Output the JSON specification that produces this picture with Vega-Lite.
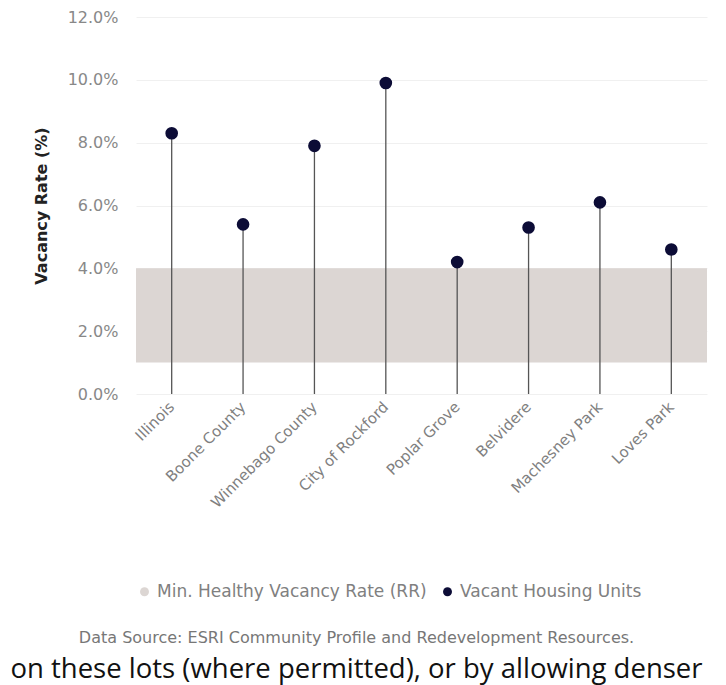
{
  "$schema": "https://vega.github.io/schema/vega-lite/v6.json",
  "autosize": "none",
  "width": 571,
  "height": 377,
  "padding": {"left": 136, "top": 17, "right": 19, "bottom": 291},
  "background": "white",
  "config": {
    "font": "DejaVu Sans",
    "view": {"stroke": null},
    "axis": {"labelFont": "DejaVu Sans", "titleFont": "DejaVu Sans"},
    "legend": {"labelFont": "DejaVu Sans"}
  },
  "datasets": {
    "places": [
      {"place": "Illinois", "rate": 8.3, "series": "Vacant Housing Units"},
      {"place": "Boone County", "rate": 5.4, "series": "Vacant Housing Units"},
      {"place": "Winnebago County", "rate": 7.9, "series": "Vacant Housing Units"},
      {"place": "City of Rockford", "rate": 9.9, "series": "Vacant Housing Units"},
      {"place": "Poplar Grove", "rate": 4.2, "series": "Vacant Housing Units"},
      {"place": "Belvidere", "rate": 5.3, "series": "Vacant Housing Units"},
      {"place": "Machesney Park", "rate": 6.1, "series": "Vacant Housing Units"},
      {"place": "Loves Park", "rate": 4.6, "series": "Vacant Housing Units"}
    ],
    "band": [
      {"series": "Min. Healthy Vacancy Rate (RR)", "rate": 1, "hi": 4}
    ]
  },
  "title": {
    "text": "Data Source: ESRI Community Profile and Redevelopment Resources.",
    "subtitle": "on these lots (where permitted), or by allowing denser",
    "orient": "bottom",
    "anchor": "middle",
    "frame": "group",
    "dx": -65,
    "offset": 30,
    "font": "DejaVu Sans",
    "fontSize": 16,
    "fontWeight": "normal",
    "color": "#777777",
    "subtitleFont": "Open Sans",
    "subtitleFontSize": 27.5,
    "subtitleColor": "#111111",
    "subtitlePadding": 10
  },
  "layer": [
    {
      "data": {"name": "band"},
      "mark": {"type": "rect", "opacity": 1},
      "encoding": {
        "y": {"field": "rate", "type": "quantitative"},
        "y2": {"field": "hi"},
        "color": {"field": "series", "type": "nominal"}
      }
    },
    {
      "data": {"name": "places"},
      "mark": {"type": "rule", "color": "#555555", "strokeWidth": 1.3},
      "encoding": {
        "x": {"field": "place", "type": "nominal", "sort": null},
        "y": {"field": "rate", "type": "quantitative"},
        "y2": {"datum": 0}
      }
    },
    {
      "data": {"name": "places"},
      "mark": {"type": "point", "filled": true, "opacity": 1, "size": 160},
      "encoding": {
        "x": {
          "field": "place", "type": "nominal", "sort": null,
          "scale": {"paddingInner": 0, "paddingOuter": 0},
          "axis": {
            "title": null, "labelAngle": -45, "labelAlign": "right", "labelBaseline": "middle",
            "labelFontSize": 15, "labelColor": "#808080", "domain": false, "ticks": false,
            "labelPadding": 10, "labelLimit": 0
          }
        },
        "y": {
          "field": "rate", "type": "quantitative",
          "scale": {"domain": [0, 12]},
          "axis": {
            "title": "Vacancy Rate (%)", "titleFontSize": 16, "titleFontWeight": "bold", "titleColor": "#222222",
            "titlePadding": 18,
            "values": [0, 2, 4, 6, 8, 10, 12],
            "labelExpr": "format(datum.value, '.1f') + '%'",
            "labelFontSize": 16, "labelColor": "#888888", "labelPadding": 18,
            "domain": false, "ticks": false,
            "grid": true, "gridColor": "#f0f0f0"
          }
        },
        "color": {
          "field": "series", "type": "nominal",
          "scale": {
            "domain": ["Min. Healthy Vacancy Rate (RR)", "Vacant Housing Units"],
            "range": ["#dcd6d3", "#0c0c36"]
          },
          "legend": {
            "title": null, "orient": "bottom", "direction": "horizontal",
            "labelFontSize": 17, "labelColor": "#808080", "symbolSize": 80, "labelLimit": 0,
            "symbolType": "circle", "offset": 72, "columnPadding": 12
          }
        }
      }
    }
  ]
}
